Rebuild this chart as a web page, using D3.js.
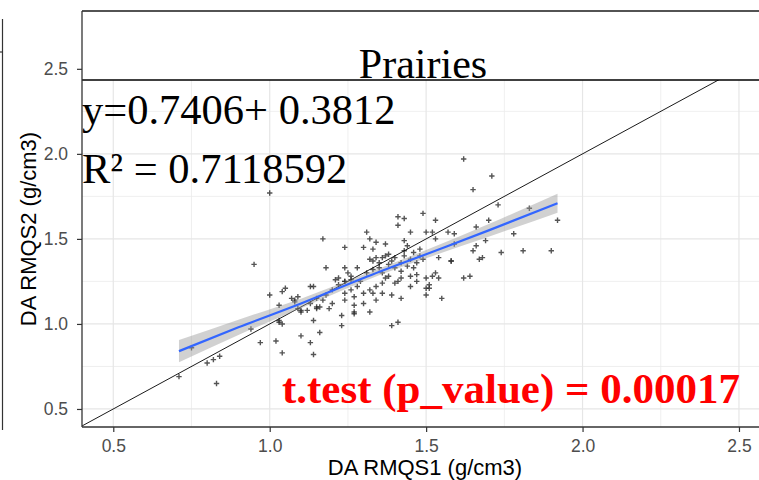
<!DOCTYPE html>
<html><head><meta charset="utf-8">
<script src="https://cdn.jsdelivr.net/npm/d3@7"></script>
<style>body{margin:0;background:#fff}svg{display:block}</style>
</head><body>
<script>
// ---- data ----
const ptsX = [0.71,0.75,0.80,0.82,0.84,0.83,0.95,1.00,0.94,0.97,1.02,1.04,
1.00,1.04,1.05,1.07,1.08,1.08,1.03,1.03,1.04,1.03,1.10,1.13,1.14,1.16,1.14,
1.13,1.14,1.15,1.16,1.15,1.19,1.09,1.10,1.10,1.12,1.09,1.23,1.23,1.27,1.17,1.18,1.24,1.24,1.28,
1.21,1.22,1.24,1.24,1.26,1.24,1.24,1.27,1.27,1.27,1.32,1.30,1.33,1.34,1.32,
1.36,1.37,1.38,1.41,1.42,1.45,1.47,1.50,1.51,1.39,1.41,1.40,
1.30,1.31,1.32,1.33,1.34,1.37,1.38,1.37,1.34,1.32,1.33,1.36,
1.40,1.42,1.43,1.44,1.43,1.46,1.47,1.48,1.45,1.41,1.43,1.41,1.49,
1.50,1.52,1.53,1.53,1.57,1.59,1.54,1.58,1.58,
1.50,1.52,1.53,1.54,1.62,1.64,1.51,1.50,1.55,
1.62,1.71,1.65,1.73,1.83,1.92,1.70,1.66,1.78,1.69,1.66,1.59,1.65,1.74,1.81,1.90,1.67,1.68,
1.20,1.18,1.22,1.26,1.28,1.29,1.31,1.33,1.35,1.36,1.38,1.40,1.42,1.44,1.45,1.46,1.48,1.49,1.35,1.39,1.43,1.25,
1.20,1.17,1.15,1.13,1.26,1.30,1.34,1.36,1.39,1.42,1.45,1.47];
const ptsY = [0.69,0.86,0.77,0.79,0.81,0.65,1.35,1.77,0.97,0.89,0.90,0.83,
1.17,1.19,1.21,1.15,1.13,1.14,1.11,1.01,1.00,1.02,0.93,0.89,0.82,0.95,1.02,
1.22,1.22,1.09,1.10,1.10,1.09,1.16,1.08,1.07,1.08,1.09,1.05,0.99,1.07,1.50,1.33,1.45,1.33,1.33,
1.26,1.27,1.25,1.25,1.26,1.18,1.14,1.16,1.11,1.06,1.07,1.18,1.18,1.22,1.20,
1.24,1.27,1.28,1.25,1.27,1.28,1.29,1.21,1.23,0.99,1.01,1.24,
1.45,1.54,1.50,1.44,1.48,1.47,1.41,1.40,1.39,1.38,1.37,1.39,
1.39,1.36,1.49,1.46,1.43,1.42,1.36,1.44,1.54,1.63,1.62,1.58,1.65,
1.54,1.54,1.61,1.50,1.54,1.53,1.39,1.37,1.37,
1.27,1.28,1.30,1.27,1.27,1.28,1.21,1.17,1.15,
1.97,1.87,1.79,1.70,1.68,1.61,1.61,1.57,1.53,1.49,1.46,1.47,1.43,1.42,1.43,1.43,1.38,1.39,
1.20,1.17,1.23,1.28,1.22,1.25,1.30,1.32,1.33,1.30,1.35,1.33,1.31,1.34,1.38,1.33,1.40,1.38,1.36,1.37,1.40,1.30,
1.12,1.14,1.15,1.12,1.20,1.12,1.14,1.18,1.17,1.15,1.22,1.25];
// fitted smooth line and its confidence band
const fitX   = [0.71, 0.90, 1.10, 1.30, 1.50, 1.70, 1.92];
const fitY   = [0.84, 0.98, 1.12, 1.27, 1.41, 1.55, 1.71];
const ciLow  = [0.775,0.935,1.092,1.25,1.386,1.513,1.654];
const ciHigh = [0.905,1.025,1.148,1.29,1.434,1.587,1.766];
const xTicks = [0.5, 1.0, 1.5, 2.0, 2.5];
const yTicks = [0.5, 1.0, 1.5, 2.0, 2.5];
const xMinor = [0.75, 1.25, 1.75, 2.25];
const yMinor = [0.75, 1.25, 1.75, 2.25, 2.75];
const stripLabel = "Prairies";
const eqLabel = "y=0.7406+ 0.3812";
const r2Label = "R\u00b2 = 0.7118592";
const testLabel = "t.test (p_value) = 0.00017";
const xTitle = "DA RMQS1 (g/cm3)";
const yTitle = "DA RMQS2 (g/cm3)";

const W = 759, H = 480;
const L = 82, R = 764, T = 11, B = 427, stripB = 80;
const svg = d3.select("body").append("svg").attr("width", W).attr("height", H);
svg.append("rect").attr("width", W).attr("height", H).attr("fill", "#fff");

const x = d3.scaleLinear().domain([0.4, 2.58]).range([L, R]);
const y = d3.scaleLinear().domain([0.394, 2.84]).range([B, T]);

svg.append("clipPath").attr("id","clip").append("rect")
  .attr("x", L).attr("y", T).attr("width", R - L).attr("height", B - T);
const panel = svg.append("g").attr("clip-path","url(#clip)");

// grid
panel.selectAll(".gxm").data(xMinor).join("line")
  .attr("x1", d => x(d)).attr("x2", d => x(d)).attr("y1", T).attr("y2", B)
  .attr("stroke", "#ebebeb").attr("stroke-width", 0.8);
panel.selectAll(".gym").data(yMinor).join("line")
  .attr("y1", d => y(d)).attr("y2", d => y(d)).attr("x1", L).attr("x2", R)
  .attr("stroke", "#ebebeb").attr("stroke-width", 0.8);
panel.selectAll(".gx").data(xTicks).join("line")
  .attr("x1", d => x(d)).attr("x2", d => x(d)).attr("y1", T).attr("y2", B)
  .attr("stroke", "#e6e6e6").attr("stroke-width", 1.2);
panel.selectAll(".gy").data(yTicks).join("line")
  .attr("y1", d => y(d)).attr("y2", d => y(d)).attr("x1", L).attr("x2", R)
  .attr("stroke", "#e6e6e6").attr("stroke-width", 1.2);

// points
const pts = ptsX.map((d, i) => [d, ptsY[i]]);
const a = 2.7;
panel.append("g").selectAll("path").data(pts).join("path")
  .attr("d", d => `M${x(d[0])-a},${y(d[1])}h${2*a}M${x(d[0])},${y(d[1])-a}v${2*a}`)
  .attr("stroke", "#2b2b2b").attr("stroke-opacity", 0.8).attr("stroke-width", 1.4).attr("fill","none");

// identity line
panel.append("line").attr("x1", x(0.4)).attr("y1", y(0.4)).attr("x2", x(2.58)).attr("y2", y(2.58))
  .attr("stroke", "#000").attr("stroke-width", 0.9);

// band + smooth
const band = fitX.map((d, i) => ({x: d, lo: ciLow[i], hi: ciHigh[i], y: fitY[i]}));
panel.append("path").datum(band)
  .attr("d", d3.area().x(d => x(d.x)).y0(d => y(d.lo)).y1(d => y(d.hi)).curve(d3.curveMonotoneX))
  .attr("fill", "#999").attr("fill-opacity", 0.45);
panel.append("path").datum(band)
  .attr("d", d3.line().x(d => x(d.x)).y(d => y(d.y)).curve(d3.curveMonotoneX))
  .attr("stroke", "#3366FF").attr("stroke-width", 2.2).attr("fill", "none");

// strip
svg.append("rect").attr("x", L).attr("y", T).attr("width", R - L + 10).attr("height", stripB - T)
  .attr("fill", "#fff");
svg.append("line").attr("x1", L).attr("x2", W).attr("y1", T).attr("y2", T).attr("stroke", "#1a1a1a").attr("stroke-width", 1.3);
svg.append("line").attr("x1", L).attr("x2", W).attr("y1", stripB).attr("y2", stripB).attr("stroke", "#000").attr("stroke-width", 1.3);
svg.append("text").attr("x", (L + R) / 2).attr("y", 78).attr("text-anchor", "middle")
  .attr("font-family", "Liberation Serif, Times New Roman, serif").attr("font-size", 42)
  .attr("fill", "#000").text(stripLabel);

// panel left and bottom border
svg.append("line").attr("x1", L).attr("x2", L).attr("y1", T).attr("y2", B).attr("stroke", "#333").attr("stroke-width", 1.3);
svg.append("line").attr("x1", L).attr("x2", W).attr("y1", B).attr("y2", B).attr("stroke", "#333").attr("stroke-width", 1.3);

// axes
const fontSans = "Liberation Sans, Arial, sans-serif";
const xAxis = svg.append("g").attr("transform", `translate(0,${B})`)
  .call(d3.axisBottom(x).tickValues(xTicks).tickFormat(d3.format(".1f")).tickSize(5).tickPadding(8));
const yAxis = svg.append("g").attr("transform", `translate(${L},0)`)
  .call(d3.axisLeft(y).tickValues(yTicks).tickFormat(d3.format(".1f")).tickSize(5).tickPadding(9));
[xAxis, yAxis].forEach(g => {
  g.select(".domain").remove();
  g.selectAll(".tick line").attr("stroke", "#333").attr("stroke-width", 1.2);
  g.selectAll(".tick text").attr("fill", "#4d4d4d").attr("font-family", fontSans).attr("font-size", 17.5);
});

svg.append("text").attr("x", 425).attr("y", 475).attr("text-anchor", "middle")
  .attr("font-family", fontSans).attr("font-size", 22).attr("fill", "#000").text(xTitle);
svg.append("text").attr("transform", "translate(36,229) rotate(-90)").attr("text-anchor", "middle")
  .attr("font-family", fontSans).attr("font-size", 22).attr("fill", "#000").text(yTitle);

// annotations
const serif = "Liberation Serif, Times New Roman, serif";
svg.append("text").attr("x", 82).attr("y", 124).attr("font-family", serif).attr("font-size", 42.5)
  .attr("fill", "#000").text(eqLabel);
svg.append("text").attr("x", 82).attr("y", 183).attr("font-family", serif).attr("font-size", 42.5)
  .attr("fill", "#000").text(r2Label);
svg.append("text").attr("x", 740).attr("y", 403).attr("text-anchor", "end").attr("font-family", serif)
  .attr("font-size", 43).attr("font-weight", "bold").attr("fill", "#ff0000").text(testLabel);

// neighbouring panel edge at far left
svg.append("line").attr("x1", 2.5).attr("x2", 2.5).attr("y1", 19).attr("y2", 430).attr("stroke", "#333").attr("stroke-width", 1.2);
svg.append("line").attr("x1", 0).attr("x2", 3).attr("y1", 52).attr("y2", 52).attr("stroke", "#333").attr("stroke-width", 1.2);
</script>
</body></html>
